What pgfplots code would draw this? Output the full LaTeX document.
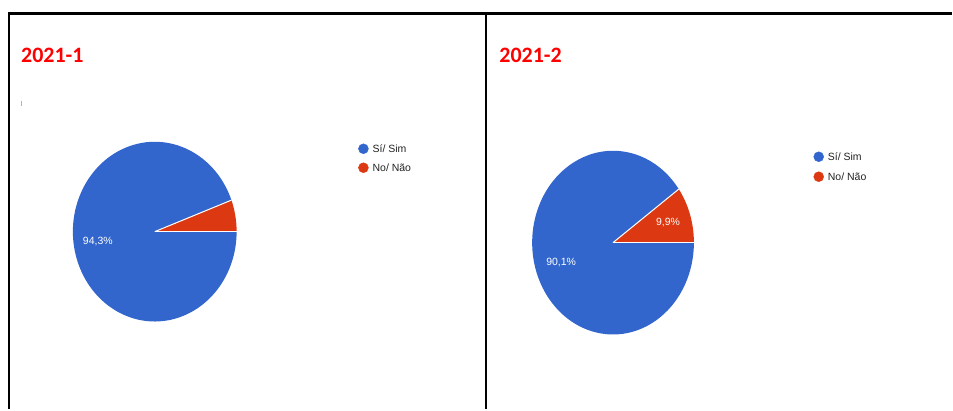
\documentclass[border=0pt]{standalone}
\usepackage{pgfplots}
\pgfplotsset{compat=1.18}
\usepackage{pgfplotstable}
\usepackage{fontspec}
\setmainfont{Liberation Sans}
\newfontfamily\titlefont{Carlito}
\definecolor{gblue}{HTML}{3366CC}
\definecolor{gred}{HTML}{DC3912}
\definecolor{tred}{HTML}{FF0000}
\definecolor{ltext}{HTML}{222222}

\pgfplotstableread{
period yes no
2021-1 94.3 5.7
2021-2 90.1 9.9
}\piedata

\begin{document}
\begin{tikzpicture}
\pgfplotstablegetelem{0}{no}\of\piedata \let\noA\pgfplotsretval
\pgfplotstablegetelem{1}{no}\of\piedata \let\noB\pgfplotsretval
\pgfmathsetmacro\angA{3.6*\noA}
\pgfmathsetmacro\angB{3.6*\noB}
\begin{axis}[
  hide axis, scale only axis, width=953pt, height=410pt,
  xmin=0, xmax=953, ymin=0, ymax=410, y dir=reverse, clip=false]
\path[draw=none] (axis cs:0,0) rectangle (axis cs:953,410);
% borders
\draw[black, line width=3pt] (axis cs:8,14) -- (axis cs:953,14);
\draw[black, line width=2.5pt] (axis cs:9,14) -- (axis cs:9,410);
\draw[black, line width=2.5pt] (axis cs:487,14) -- (axis cs:487,410);
% titles
\node[anchor=base west, inner sep=0, text=tred, font=\titlefont\bfseries\fontsize{22}{22}\selectfont] at (axis cs:21,63) {2021-1};
\node[anchor=base west, inner sep=0, text=tred, font=\titlefont\bfseries\fontsize{22}{22}\selectfont] at (axis cs:500,63) {2021-2};
\fill[gray!60] (axis cs:21.5,101) rectangle (axis cs:22.5,106);
% left pie
\fill[gred] (axis cs:155,232) -- ++(0:82pt) arc[start angle=0, end angle=\angA, x radius=82pt, y radius=90pt] -- cycle;
\fill[gblue] (axis cs:155,232) -- ++(\angA:82pt and 90pt) arc[start angle=\angA, end angle=360, x radius=82pt, y radius=90pt] -- cycle;
\draw[white, line width=1pt] (axis cs:155,232) -- ++(0:82pt);
\draw[white, line width=1pt] (axis cs:155,232) -- ++(\angA:82pt and 90pt);
\node[text=white, font=\fontsize{10.5}{12}\selectfont] at (axis cs:98,242) {94,3\%};
% right pie
\fill[gred] (axis cs:614,243) -- ++(0:81pt) arc[start angle=0, end angle=\angB, x radius=81pt, y radius=92pt] -- cycle;
\fill[gblue] (axis cs:614,243) -- ++(\angB:81pt and 92pt) arc[start angle=\angB, end angle=360, x radius=81pt, y radius=92pt] -- cycle;
\draw[white, line width=1pt] (axis cs:614,243) -- ++(0:81pt);
\draw[white, line width=1pt] (axis cs:614,243) -- ++(\angB:81pt and 92pt);
\node[text=white, font=\fontsize{10.5}{12}\selectfont] at (axis cs:562,263) {90,1\%};
\node[text=white, font=\fontsize{10.5}{12}\selectfont] at (axis cs:669,223) {9,9\%};
% legends
\addplot[only marks, mark=*, mark size=5pt, color=gblue] coordinates {(364,149) (820,157)};
\addplot[only marks, mark=*, mark size=5pt, color=gred] coordinates {(364,168) (820,177)};
\node[anchor=west, inner sep=0, text=ltext, font=\fontsize{10.5}{12}\selectfont] at (axis cs:373,149) {Sí/ Sim};
\node[anchor=west, inner sep=0, text=ltext, font=\fontsize{10.5}{12}\selectfont] at (axis cs:373,168) {No/ Não};
\node[anchor=west, inner sep=0, text=ltext, font=\fontsize{10.5}{12}\selectfont] at (axis cs:829,157) {Sí/ Sim};
\node[anchor=west, inner sep=0, text=ltext, font=\fontsize{10.5}{12}\selectfont] at (axis cs:829,177) {No/ Não};
\end{axis}
\end{tikzpicture}
\end{document}
